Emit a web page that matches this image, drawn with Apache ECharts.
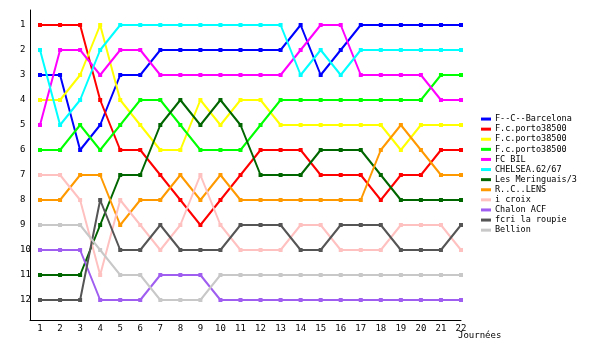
<!DOCTYPE html>
<html>
<head>
<meta charset="utf-8">
<script src="https://cdn.jsdelivr.net/npm/echarts@6/dist/echarts.min.js"></script>
<style>html,body{margin:0;padding:0;background:#fff}#c{width:600px;height:350px}</style>
</head>
<body>
<div id="c"></div>
<script>
const journees = [1,2,3,4,5,6,7,8,9,10,11,12,13,14,15,16,17,18,19,20,21,22];
const rankTicks = [1,2,3,4,5,6,7,8,9,10,11,12];
const teamNames = ["F--C--Barcelona","F.c.porto38500","F.c.porto38500","F.c.porto38500","FC BIL","CHELSEA.62/67","Les Meringuais/3","R..C..LENS","i croix","Chalon ACF","fcri la roupie","Bellion"];
const teamColors = ["#0000ff","#ff0000","#ffff00","#00ff00","#ff00ff","#00ffff","#006600","#ff9900","#ffc0c0","#a05ef0","#555555","#c8c8c8"];
const barcelona  = [3,3,6,5,3,3,2,2,2,2,2,2,2,1,3,2,1,1,1,1,1,1];
const portoRed   = [1,1,1,4,6,6,7,8,9,8,7,6,6,6,7,7,7,8,7,7,6,6];
const portoYel   = [4,4,3,1,4,5,6,6,4,5,4,4,5,5,5,5,5,5,6,5,5,5];
const portoGreen = [6,6,5,6,5,4,4,5,6,6,6,5,4,4,4,4,4,4,4,4,3,3];
const fcBil      = [5,2,2,3,2,2,3,3,3,3,3,3,3,2,1,1,3,3,3,3,4,4];
const chelsea    = [2,5,4,2,1,1,1,1,1,1,1,1,1,3,2,3,2,2,2,2,2,2];
const meringuais = [11,11,11,9,7,7,5,4,5,4,5,7,7,7,6,6,6,7,8,8,8,8];
const lens       = [8,8,7,7,9,8,8,7,8,7,8,8,8,8,8,8,8,6,5,6,7,7];
const iCroix     = [7,7,8,11,8,9,10,9,7,9,10,10,10,9,9,10,10,10,9,9,9,10];
const chalon     = [10,10,10,12,12,12,11,11,11,12,12,12,12,12,12,12,12,12,12,12,12,12];
const fcri       = [12,12,12,8,10,10,9,10,10,10,9,9,9,10,10,9,9,9,10,10,10,9];
const bellion    = [9,9,9,10,11,11,12,12,12,11,11,11,11,11,11,11,11,11,11,11,11,11];
const allRanks = [barcelona,portoRed,portoYel,portoGreen,fcBil,chelsea,meringuais,lens,iCroix,chalon,fcri,bellion];

const uniq = teamNames.map((n,i)=> n + '#' + i);
const series = allRanks.map((vals,i)=>({
  name: uniq[i],
  type: 'line',
  data: vals.map((v,k)=>[journees[k], v]),
  symbol: 'rect',
  symbolSize: 4,
  showAllSymbol: true,
  lineStyle: {width: 2, color: teamColors[i]},
  itemStyle: {color: teamColors[i], borderWidth: 0},
  emphasis: {disabled: true}
}));

const chart = echarts.init(document.getElementById('c'), null, {renderer:'canvas'});
chart.setOption({
  animation: false,
  color: teamColors,
  title: {
    text: 'Journées', left: 458, top: 331, padding: 0,
    textStyle: {fontFamily: 'DejaVu Sans Mono', fontSize: 9, fontWeight: 'normal', color: '#000'}
  },
  grid: {left: 30, top: 10, width: 431, height: 310, containLabel: false},
  xAxis: {
    type: 'value', min: 0.5, max: 22,
    axisLine: {show: true, lineStyle: {color: '#000', width: 1}},
    axisTick: {show: false},
    splitLine: {show: false},
    axisLabel: {customValues: journees, margin: 4, fontFamily: 'DejaVu Sans Mono', fontSize: 9, color: '#000'}
  },
  yAxis: {
    type: 'value', min: 0.4, max: 12.8, inverse: true,
    axisLine: {show: true, lineStyle: {color: '#000', width: 1}},
    axisTick: {show: false},
    splitLine: {show: false},
    axisLabel: {customValues: rankTicks, margin: 10, align: 'left', fontFamily: 'DejaVu Sans Mono', fontSize: 9, color: '#000'}
  },
  legend: {
    orient: 'vertical', left: 481, top: 114, padding: 0, itemGap: 0,
    itemWidth: 10, itemHeight: 3, icon: 'rect',
    data: uniq,
    formatter: n => n.replace(/#\d+$/, ''),
    textStyle: {fontFamily: 'DejaVu Sans Mono', fontSize: 8.5, lineHeight: 10.1, color: '#000', padding: [0,0,0,-1]}
  },
  series: series
});
</script>
</body>
</html>
